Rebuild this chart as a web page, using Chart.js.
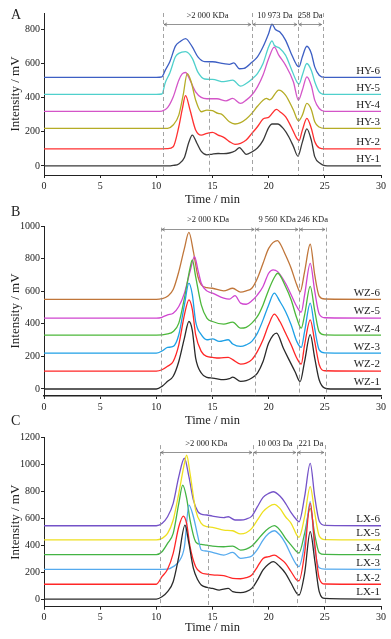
<!DOCTYPE html>
<html>
<head>
<meta charset="utf-8">
<script src="https://cdn.jsdelivr.net/npm/chart.js@4.4.1/dist/chart.umd.min.js"></script>
<style>
	html, body { margin: 0; padding: 0; background: #fff; }
	#wrap { position: relative; width: 391px; height: 639px; overflow: hidden; }
	canvas { position: absolute; left: 0; }
</style>
</head>
<body>
<div id="wrap">
	<canvas id="chartA" width="391" height="210" style="top:0px"></canvas>
	<canvas id="chartB" width="391" height="224" style="top:205px"></canvas>
	<canvas id="chartC" width="391" height="229" style="top:410px"></canvas>
</div>
<script>
	// time / min -> intensity / mV
	const xTicks = [0, 5, 10, 15, 20, 25, 30];

	// panel A
	const hyTicks = [0, 200, 400, 600, 800];
	const hyNames = ['HY-1', 'HY-2', 'HY-3', 'HY-4', 'HY-5', 'HY-6'];
	const hyBounds = [10.6, 14.7, 18.5, 22.6, 24.8];
	const hyRanges = ['>2 000 KDa', '10 973 Da', '258 Da'];
	const hy1 = [[0,0],[10,0],[11,0],[11.5,3],[12,12],[12.5,50],[12.9,140],[13.2,181],[13.6,135],[14,85],[14.5,65],[15,70],[15.5,73],[16,72],[16.5,76],[17,88],[17.4,107],[17.7,88],[18,68],[18.5,82],[19,105],[19.5,150],[20,225],[20.3,246],[20.8,246],[21.3,220],[21.8,170],[22.2,115],[22.6,58],[23,140],[23.4,218],[23.8,150],[24.1,55],[24.6,15],[25,2],[25.5,0],[30,0]];
	const hy2 = [[0,100],[10,100],[11,102],[11.5,113],[12,230],[12.3,330],[12.6,412],[13,328],[13.5,211],[14,181],[14.5,191],[15,197],[15.5,181],[16,168],[16.5,143],[17,127],[17.5,133],[18,152],[18.5,191],[19,230],[19.5,275],[19.7,281],[20,285],[20.7,332],[21,318],[21.5,289],[22,230],[22.5,162],[22.7,148],[23,210],[23.4,279],[23.8,220],[24.1,143],[24.5,106],[25,100],[30,100]];
	const hy3 = [[0,220],[10,220],[11,221],[11.5,240],[12,298],[12.4,420],[12.75,542],[13.1,494],[13.5,386],[14,318],[14.5,328],[15,324],[15.5,308],[15.8,304],[16.5,259],[17,246],[17.5,254],[18,275],[18.5,308],[19,350],[19.5,386],[19.8,396],[20.1,388],[20.9,445],[21.5,416],[22.2,328],[22.65,265],[23,298],[23.4,367],[23.8,330],[24.1,259],[24.5,228],[25,220],[30,220]];
	const hy4 = [[0,320],[10,320],[10.5,322],[11,342],[11.5,404],[12,503],[12.3,540],[12.6,548],[13,503],[13.5,435],[14,402],[14.5,394],[15.4,394],[16.2,382],[16.8,396],[17.5,367],[18,386],[18.5,416],[19,464],[19.5,533],[20,630],[20.5,697],[20.9,650],[21.5,591],[22.2,494],[22.65,386],[23,445],[23.4,523],[23.8,470],[24.1,386],[24.5,337],[25,320],[30,320]];
	const hy5 = [[0,420],[10,420],[10.5,422],[10.8,490],[11.2,545],[11.7,640],[12,660],[12.6,670],[13.2,631],[13.7,550],[14.3,510],[15,508],[16,494],[16.8,503],[17.5,468],[18,484],[18.5,509],[19,542],[19.5,601],[20,699],[20.3,734],[20.5,708],[21,689],[21.5,650],[22,572],[22.5,494],[22.7,480],[23,533],[23.4,601],[23.8,560],[24.1,494],[24.5,435],[25,420],[30,420]];
	const hy6 = [[0,520],[10,520],[10.5,523],[10.8,562],[11.2,611],[11.7,703],[12.1,728],[12.6,747],[13.2,698],[13.7,640],[14.3,612],[15,611],[16,600],[16.5,596],[16.9,604],[17.4,570],[17.8,572],[18.5,608],[19,640],[19.5,699],[20,777],[20.3,831],[20.6,800],[21,786],[21.5,738],[22,660],[22.5,591],[22.7,581],[23,640],[23.4,702],[23.8,660],[24.1,581],[24.5,532],[25,520],[30,520]];

	// panel B
	const wzTicks = [0, 200, 400, 600, 800, 1000];
	const wzNames = ['WZ-1', 'WZ-2', 'WZ-3', 'WZ-4', 'WZ-5', 'WZ-6'];
	const wzBounds = [10.4, 14.9, 18.8, 22.7, 25.1];
	const wzRanges = ['>2 000 KDa', '9 560 KDa', '246 KDa'];
	const wz1 = [[0,0],[10,0],[10.5,16],[11,47],[11.5,78],[12,169],[12.5,312],[12.9,414],[13.2,360],[13.5,190],[14,98],[14.5,71],[15,67],[16,57],[16.5,63],[16.8,73],[17.5,47],[18,51],[18.5,67],[19,98],[19.5,169],[20,282],[20.7,343],[21.3,252],[21.75,188],[22.35,106],[22.8,45],[23.2,170],[23.7,333],[24.1,190],[24.5,55],[25,5],[25.5,0],[30,0]];
	const wz2 = [[0,110],[10,110],[10.5,118],[11,139],[11.5,169],[12,271],[12.5,455],[12.9,547],[13.2,490],[13.5,333],[14,231],[14.5,200],[15,194],[15.6,190],[16.4,194],[16.8,180],[17.5,153],[18,159],[18.5,180],[19,231],[19.5,302],[20,394],[20.5,459],[21,414],[21.5,343],[22,271],[22.5,190],[22.9,153],[23.2,271],[23.7,424],[24.1,292],[24.5,149],[25,112],[30,110]];
	const wz3 = [[0,220],[10,220],[10.5,233],[11,255],[11.5,261],[12,333],[12.5,516],[12.9,649],[13.2,580],[13.5,414],[14,333],[14.5,302],[15,308],[15.6,292],[16.4,302],[16.8,276],[17.5,261],[18,271],[18.5,292],[19,343],[19.5,424],[20,516],[20.5,588],[21,537],[21.5,476],[22,394],[22.5,292],[22.9,255],[23.2,353],[23.7,527],[24.1,370],[24.5,240],[25,222],[30,220]];
	const wz4 = [[0,330],[10,330],[11,338],[11.5,353],[12,404],[12.5,557],[13,741],[13.2,792],[13.5,690],[14,516],[14.5,435],[15,414],[16,398],[16.8,410],[17.5,373],[18,378],[18.5,404],[19,445],[19.5,516],[20,608],[20.5,684],[20.8,710],[21.5,629],[22,547],[22.5,435],[22.9,373],[23.2,455],[23.7,629],[24.1,480],[24.5,350],[25,332],[30,330]];
	const wz5 = [[0,435],[10,435],[10.5,440],[11,455],[11.5,465],[12,506],[12.5,588],[13,720],[13.4,812],[13.7,731],[14,649],[14.5,602],[15,588],[16,557],[16.5,551],[17,573],[17.5,527],[18,520],[18.5,541],[19,578],[19.5,629],[20,710],[20.4,731],[20.8,720],[21.5,649],[22,578],[22.5,506],[22.9,471],[23.2,578],[23.7,771],[24.1,600],[24.5,460],[25,437],[30,435]];
	const wz6 = [[0,550],[10,550],[10.5,554],[11,569],[11.5,610],[12,720],[12.5,863],[12.9,961],[13.3,843],[13.7,690],[14,639],[14.5,622],[15,618],[16,602],[16.8,618],[17.5,594],[18,602],[18.5,618],[19,680],[19.5,771],[20,863],[20.8,910],[21,894],[21.5,822],[22,741],[22.5,639],[22.8,596],[23.2,720],[23.7,888],[24.1,700],[24.5,570],[25,552],[30,550]];

	// panel C
	const lxTicks = [0, 200, 400, 600, 800, 1000, 1200];
	const lxNames = ['LX-1', 'LX-2', 'LX-3', 'LX-4', 'LX-5', 'LX-6'];
	const lxBounds = [10.3, 14.6, 18.6, 22.5, 25.0];
	const lxRanges = ['>2 000 KDa', '10 003 Da', '221 Da'];
	const lx1 = [[0,0],[10,0],[10.5,17],[11,55],[11.5,129],[12,315],[12.55,550],[12.9,414],[13.3,228],[13.7,141],[14,104],[14.5,87],[15,79],[15.6,67],[16.4,79],[16.8,55],[17.5,47],[18,55],[18.5,79],[19,141],[19.5,216],[20,260],[20.4,278],[21,240],[21.5,191],[22,117],[22.5,42],[22.7,30],[23.2,191],[23.7,501],[24.1,290],[24.5,55],[25,5],[30,0]];
	const lx2 = [[0,110],[10,110],[10.5,166],[11,221],[11.5,340],[12,538],[12.4,617],[12.7,560],[13,389],[13.5,240],[14,196],[14.5,186],[15,179],[16,174],[16.8,154],[17.5,151],[18,159],[18.5,179],[19,240],[19.5,302],[20,315],[20.5,327],[21,302],[21.5,265],[22,203],[22.5,141],[22.7,136],[23.2,340],[23.7,712],[24.1,414],[24.5,154],[25,112],[30,110]];
	const lx3 = [[0,220],[10,220],[11,222],[11.5,241],[12,278],[12.5,389],[12.9,699],[13.3,612],[13.7,464],[14,365],[14.5,357],[15,347],[16,327],[16.8,347],[17.5,303],[18,308],[18.5,320],[19,369],[19.5,439],[20,488],[20.5,508],[21,476],[21.5,414],[22,327],[22.5,253],[22.7,241],[23.2,414],[23.7,724],[24.1,380],[24.5,232],[25,222],[30,220]];
	const lx4 = [[0,330],[10,330],[10.5,352],[11,414],[11.5,488],[12,712],[12.35,848],[12.7,749],[13,588],[13.5,426],[14,406],[14.5,401],[15,394],[16,389],[16.8,394],[17.5,364],[18,372],[18.5,394],[19,439],[19.5,488],[20,526],[20.5,546],[21,513],[21.5,451],[22,401],[22.5,352],[22.7,342],[23.2,488],[23.7,674],[24.1,480],[24.5,345],[25,332],[30,330]];
	const lx5 = [[0,440],[10,440],[10.5,451],[11,488],[11.5,588],[12,786],[12.5,1009],[12.7,1071],[13,935],[13.5,662],[14,563],[14.5,538],[15,533],[16,513],[16.8,508],[17.5,484],[18,493],[18.5,526],[19,588],[19.5,650],[20,687],[20.5,704],[21,674],[21.5,612],[22,563],[22.5,476],[22.7,458],[23.2,612],[23.7,836],[24.1,640],[24.5,470],[25,442],[30,440]];
	const lx6 = [[0,545],[10,545],[10.5,562],[11,612],[11.5,712],[12,910],[12.5,1047],[12.9,910],[13.3,736],[13.7,650],[14,632],[14.5,625],[15,617],[16,605],[16.4,612],[17,588],[17.5,588],[18,595],[18.5,617],[19,687],[19.5,756],[20,786],[20.4,798],[21,766],[21.5,712],[22,642],[22.5,588],[22.7,575],[23.2,761],[23.7,1009],[24.1,761],[24.5,580],[25,548],[30,545]];

	const serif = '"Liberation Serif", "Times New Roman", serif';
	const ink = '#222';

	// boundary lines, range arrows, trace names and the panel letter
	const markerPlugin = {
		id: 'markers',
		afterDraw(chart, _args, o) {
			const { ctx, chartArea } = chart;
			const x = chart.scales.x;
			const y = chart.scales.y;
			ctx.save();

			ctx.strokeStyle = '#8c8c8c';
			ctx.lineWidth = 0.8;
			ctx.setLineDash([4, 3]);
			o.bounds.forEach((t, i) => {
				const px = Math.round(x.getPixelForValue(t)) + 0.5;
				ctx.beginPath();
				ctx.moveTo(px, y.getPixelForValue(o.lineTop[i]));
				ctx.lineTo(px, chartArea.bottom);
				ctx.stroke();
			});
			ctx.setLineDash([]);

			const ay = Math.round(y.getPixelForValue(o.arrowAt)) + 0.5;
			const ly = y.getPixelForValue(o.labelAt);
			const spans = [[0, 2], [2, 3], [3, 4]];
			ctx.strokeStyle = '#666';
			ctx.lineWidth = 0.7;
			ctx.fillStyle = ink;
			ctx.font = '8.5px ' + serif;
			ctx.textAlign = 'center';
			ctx.textBaseline = 'middle';
			spans.forEach(([a, b], k) => {
				const x1 = x.getPixelForValue(o.bounds[a]) + 1;
				const x2 = x.getPixelForValue(o.bounds[b]) - 1;
				ctx.beginPath();
				ctx.moveTo(x1, ay);
				ctx.lineTo(x2, ay);
				ctx.moveTo(x1 + 3, ay - 1.6);
				ctx.lineTo(x1, ay);
				ctx.lineTo(x1 + 3, ay + 1.6);
				ctx.moveTo(x2 - 3, ay - 1.6);
				ctx.lineTo(x2, ay);
				ctx.lineTo(x2 - 3, ay + 1.6);
				ctx.stroke();
				ctx.fillText(o.ranges[k], (x1 + x2) / 2, ly);
			});

			ctx.font = '11px ' + serif;
			ctx.textAlign = 'right';
			ctx.textBaseline = 'bottom';
			chart.data.datasets.forEach((ds) => {
				const last = ds.data[ds.data.length - 1];
				ctx.fillText(ds.label, chartArea.right - 1, y.getPixelForValue(last.y) - 1);
			});

			ctx.font = '14px ' + serif;
			ctx.textAlign = 'left';
			ctx.textBaseline = 'middle';
			ctx.fillText(o.letter, 11, o.letterY);
			ctx.restore();
		}
	};

	function buildPanel(id, p) {
		return new Chart(document.getElementById(id), {
			type: 'line',
			data: {
				datasets: p.series.map((s, i) => ({
					label: p.names[i],
					data: s.map(([t, v]) => ({ x: t, y: v })),
					borderColor: p.colors[i],
					backgroundColor: p.colors[i],
					borderWidth: 1.3,
					pointRadius: 0,
					fill: false,
					cubicInterpolationMode: 'monotone'
				}))
			},
			options: {
				responsive: false,
				animation: false,
				devicePixelRatio: 1,
				layout: { padding: { left: 0, right: 10, top: p.areaTop, bottom: 0 } },
				plugins: {
					legend: { display: false },
					tooltip: { enabled: false },
					markers: {
						bounds: p.bounds,
						lineTop: p.lineTop,
						arrowAt: p.arrowAt,
						labelAt: p.labelAt,
						ranges: p.ranges,
						letter: p.letter,
						letterY: p.letterY
					}
				},
				scales: {
					x: {
						type: 'linear',
						min: 0,
						max: 30,
						afterBuildTicks: (s) => { s.ticks = xTicks.map((v) => ({ value: v })); },
						afterFit: (s) => { s.height = p.xHeight; },
						grid: { drawOnChartArea: false, drawTicks: true, tickLength: 3, color: ink },
						border: { color: ink, width: p.xBorder },
						ticks: { color: ink, padding: 2, maxRotation: 0, font: { family: serif, size: 10 }, callback: (v) => String(v) },
						title: {
							display: true,
							text: 'Time / min',
							color: ink,
							font: { family: serif, size: 12.5 },
							padding: { top: 0, bottom: p.titlePad }
						}
					},
					y: {
						min: p.yMin,
						max: p.yMax,
						afterBuildTicks: (s) => { s.ticks = p.yTicks.map((v) => ({ value: v })); },
						afterFit: (s) => { s.width = 44; },
						grid: { drawOnChartArea: false, drawTicks: true, tickLength: 3, color: ink },
						border: { color: ink, width: 1 },
						ticks: { color: ink, padding: 1, font: { family: serif, size: 10 }, callback: (v) => String(v) },
						title: {
							display: true,
							text: 'Intensity / mV',
							color: ink,
							font: { family: serif, size: 13 },
							padding: { top: 8, bottom: 0 }
						}
					}
				}
			},
			plugins: [markerPlugin]
		});
	}

	buildPanel('chartA', {
		series: [hy1, hy2, hy3, hy4, hy5, hy6],
		names: hyNames,
		colors: ['#3a3a3a', '#ff3030', '#b5ac25', '#d455c8', '#4fd0cc', '#3d5fc4'],
		yTicks: hyTicks, yMin: -53, yMax: 897,
		areaTop: 13, xHeight: 35, titlePad: 2.5, xBorder: 1,
		bounds: hyBounds, lineTop: [897, 605, 897, 897, 897],
		arrowAt: 835, labelAt: 878, ranges: hyRanges,
		letter: 'A', letterY: 15
	});

	buildPanel('chartB', {
		series: [wz1, wz2, wz3, wz4, wz5, wz6],
		names: wzNames,
		colors: ['#2a2a2a', '#ff2626', '#1ea0e6', '#4cb83a', '#d045d0', '#c0763a'],
		yTicks: wzTicks, yMin: -43, yMax: 1000,
		areaTop: 21, xHeight: 33, titlePad: 0.5, xBorder: 1.6,
		bounds: wzBounds, lineTop: [990, 650, 990, 990, 990],
		arrowAt: 980, labelAt: 1037, ranges: wzRanges,
		letter: 'B', letterY: 7.5
	});

	buildPanel('chartC', {
		series: [lx1, lx2, lx3, lx4, lx5, lx6],
		names: lxNames,
		colors: ['#2a2a2a', '#ff2626', '#55aaee', '#44b444', '#eee020', '#7452c8'],
		yTicks: lxTicks, yMin: -57, yMax: 1200,
		areaTop: 27.7, xHeight: 32.3, titlePad: 3.5, xBorder: 1,
		bounds: lxBounds, lineTop: [1145, 662, 1145, 1145, 1145],
		arrowAt: 1091, labelAt: 1158, ranges: lxRanges,
		letter: 'C', letterY: 11.7
	});
</script>
</body>
</html>
